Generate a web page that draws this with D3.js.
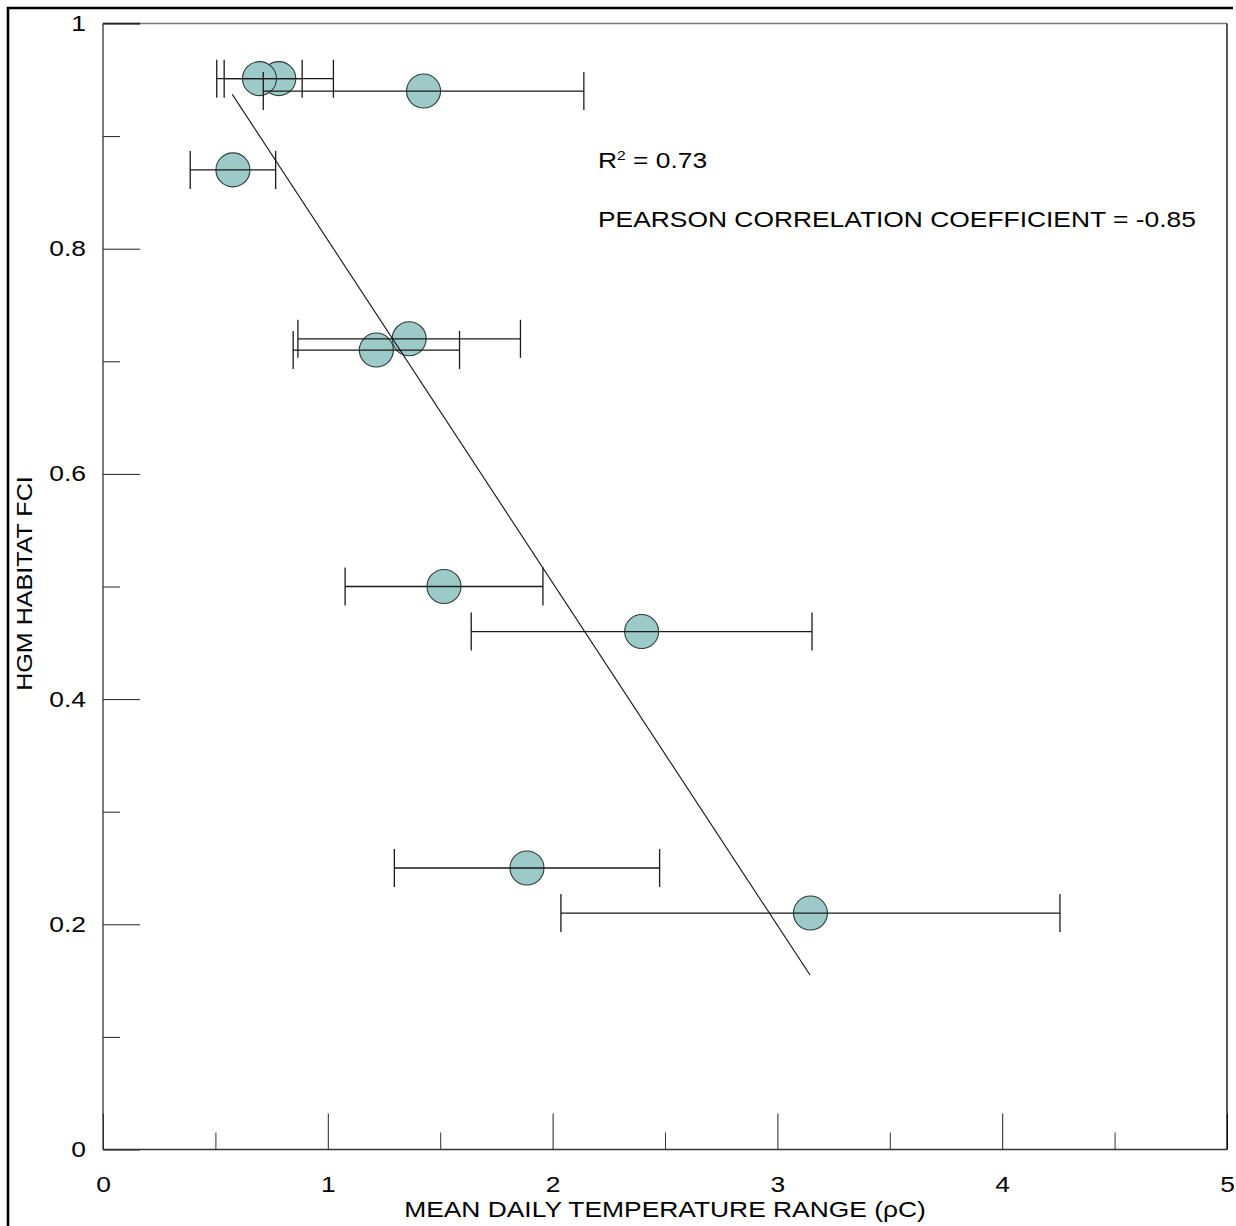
<!DOCTYPE html>
<html>
<head>
<meta charset="utf-8">
<script src="https://cdn.jsdelivr.net/npm/d3@7"></script>
<style>
  html, body { margin: 0; padding: 0; background: #fff; }
  svg { display: block; }
  text { font-family: "Liberation Sans", Arial, sans-serif; fill: #000; }
</style>
</head>
<body>
<svg id="chart" width="1236" height="1226"></svg>
<script>
// Site data: mean daily temperature range (°C) with its ± spread, against HGM habitat FCI
const tempMean = [0.782, 0.696, 1.426, 0.578, 1.216, 1.362, 1.517, 2.396, 1.886, 3.147];
const tempSpread = [0.243, 0.19, 0.713, 0.19, 0.37, 0.495, 0.44, 0.758, 0.59, 1.11];
const habitatFCI = [0.951, 0.951, 0.94, 0.87, 0.71, 0.72, 0.50, 0.46, 0.25, 0.21];

// Least-squares fit line and its extent along x
const fitIntercept = 1.112;
const fitSlope = -0.3043;
const fitRange = [0.575, 3.145];

// Axis ticks
const xMajorTicks = [0, 1, 2, 3, 4, 5];
const xMinorTicks = [0.5, 1.5, 2.5, 3.5, 4.5];
const yMajorTicks = [0, 0.2, 0.4, 0.6, 0.8, 1];
const yMinorTicks = [0.1, 0.3, 0.5, 0.7, 0.9];
const yTickLabels = ["0", "0.2", "0.4", "0.6", "0.8", "1"];

const statLines = ["R", "PEARSON CORRELATION COEFFICIENT = -0.85"];

const svg = d3.select("#chart");
const SX = 1.2; // horizontal widening of lettering

const x = d3.scaleLinear().domain([0, 5]).range([103, 1227]);
const y = d3.scaleLinear().domain([0, 1]).range([1149.5, 23.5]);

function widen(sel, sx) {
  sel.each(function () {
    const t = d3.select(this);
    const px = +t.attr("x") || 0;
    t.attr("x", px / sx).attr("transform", `scale(${sx},1)`);
  });
}

// outer border
svg.append("path")
  .attr("d", "M8,1226V8H1233")
  .attr("fill", "none").attr("stroke", "#000").attr("stroke-width", 2.6);

// minor ticks
svg.append("g").attr("transform", `translate(${x(0)},0)`)
  .call(d3.axisLeft(y).tickValues(yMinorTicks).tickSize(-17).tickFormat(""))
  .call(g => g.select(".domain").remove())
  .call(g => g.selectAll("line").attr("stroke", "#222"));
svg.append("g").attr("transform", `translate(0,${y(0)})`)
  .call(d3.axisBottom(x).tickValues(xMinorTicks).tickSize(-17).tickFormat(""))
  .call(g => g.select(".domain").remove())
  .call(g => g.selectAll("line").attr("stroke", "#333"));

// major ticks with labels
const yAx = svg.append("g").attr("transform", `translate(${x(0)},0)`)
  .call(d3.axisLeft(y).tickValues(yMajorTicks).tickSize(-37).tickPadding(17)
    .tickFormat((d, i) => yTickLabels[i]))
  .call(g => g.select(".domain").remove())
  .call(g => g.selectAll("line").attr("stroke", "#222"));
yAx.selectAll("text").attr("font-size", 22).attr("fill", "#000")
  .attr("font-family", "Liberation Sans, Arial, sans-serif").call(widen, SX);

const xAx = svg.append("g").attr("transform", `translate(0,${y(0)})`)
  .call(d3.axisBottom(x).tickValues(xMajorTicks).tickSize(-36).tickPadding(27)
    .tickFormat(d3.format("d")))
  .call(g => g.select(".domain").remove())
  .call(g => g.selectAll("line").attr("stroke", "#222"));
xAx.selectAll("text").attr("font-size", 22).attr("fill", "#000")
  .attr("font-family", "Liberation Sans, Arial, sans-serif").call(widen, SX);

// plot frame
const frame = svg.append("g").attr("fill", "none").attr("stroke-width", 1.3);
frame.append("line").attr("x1", x(0)).attr("x2", x(5)).attr("y1", y(1)).attr("y2", y(1)).attr("stroke", "#777");
frame.append("line").attr("x1", x(0)).attr("x2", x(0) + 37).attr("y1", y(1)).attr("y2", y(1)).attr("stroke", "#222");
frame.append("line").attr("x1", x(0)).attr("x2", x(0)).attr("y1", y(1)).attr("y2", y(0)).attr("stroke", "#333");
frame.append("line").attr("x1", x(0)).attr("x2", x(5)).attr("y1", y(0)).attr("y2", y(0)).attr("stroke", "#333");
frame.append("line").attr("x1", x(5)).attr("x2", x(5)).attr("y1", y(1)).attr("y2", y(0)).attr("stroke", "#000");

const pts = tempMean.map((m, i) => ({ m, s: tempSpread[i], f: habitatFCI[i] }));

// markers
svg.append("g").selectAll("circle").data(pts).join("circle")
  .attr("cx", d => x(d.m)).attr("cy", d => y(d.f)).attr("r", 17)
  .attr("fill", "#9ccac8").attr("stroke", "#2e3a3a").attr("stroke-width", 1.1);

// horizontal error bars
const eb = svg.append("g").attr("stroke", "#1a1a1a").attr("stroke-width", 1.3).attr("fill", "none");
eb.selectAll("path").data(pts).join("path")
  .attr("d", d => {
    const x0 = x(d.m - d.s), x1 = x(d.m + d.s), yy = y(d.f);
    return `M${x0},${yy}H${x1}M${x0},${yy - 19}V${yy + 19}M${x1},${yy - 19}V${yy + 19}`;
  });

// fit line
svg.append("line")
  .attr("x1", x(fitRange[0])).attr("y1", y(fitIntercept + fitSlope * fitRange[0]))
  .attr("x2", x(fitRange[1])).attr("y2", y(fitIntercept + fitSlope * fitRange[1]))
  .attr("stroke", "#111").attr("stroke-width", 1.1);

// statistics
const r2 = svg.append("text").attr("x", 598).attr("y", 168).attr("font-size", 22);
r2.append("tspan").text(statLines[0]);
r2.append("tspan").attr("font-size", 13).attr("dy", -8).text("2");
r2.append("tspan").attr("dy", 8).text(" = 0.73");
r2.call(widen, SX);
svg.append("text").attr("x", 598).attr("y", 227).attr("font-size", 22)
  .text(statLines[1]).call(widen, SX);

// axis titles
svg.append("text").attr("x", 665).attr("y", 1217).attr("font-size", 22)
  .attr("text-anchor", "middle")
  .text("MEAN DAILY TEMPERATURE RANGE (ρC)").call(widen, SX);

svg.append("text")
  .attr("transform", "translate(31.5,583.5) rotate(-90) scale(1.14,1)")
  .attr("font-size", 22).attr("text-anchor", "middle")
  .text("HGM HABITAT FCI");
</script>
</body>
</html>
